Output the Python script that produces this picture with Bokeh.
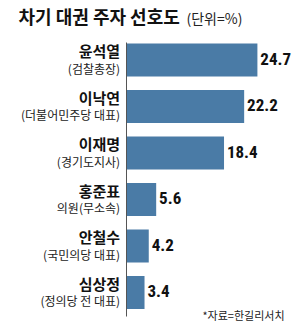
from bokeh.plotting import figure
from bokeh.models import Range1d, ColumnDataSource, Label
from bokeh.core.properties import value
from bokeh.embed import file_html
from bokeh.resources import INLINE

names = ["윤석열", "이낙연", "이재명", "홍준표", "안철수", "심상정"]
roles = ["(검찰총장)", "(더불어민주당 대표)", "(경기도지사)", "의원(무소속)", "(국민의당 대표)", "(정의당 전 대표)"]
values = [24.7, 22.2, 18.4, 5.6, 4.2, 3.4]
value_labels = ["24.7", "22.2", "18.4", "5.6", "4.2", "3.4"]

rows = list(range(len(names)))
W, H = 300, 329
px_per_unit = 5.3
x0_px = 126
row_px = 46.5
first_center_px = 59.5

x_start = -x0_px / px_per_unit
x_end = x_start + W / px_per_unit
y_top = -first_center_px / row_px
y_bottom = (H - first_center_px) / row_px

p = figure(width=W, height=H, output_backend="svg", toolbar_location=None,
           x_range=Range1d(x_start, x_end), y_range=Range1d(y_bottom, y_top),
           min_border=0, min_border_left=0, min_border_right=0,
           min_border_top=0, min_border_bottom=0)
p.axis.visible = False
p.grid.visible = False
p.outline_line_color = None
p.background_fill_color = "white"
p.border_fill_color = "white"

src = ColumnDataSource(dict(
    y=rows, v=values, name=names, role=roles, vl=value_labels,
    y_name=[r - 0.2 for r in rows], y_role=[r + 0.18 for r in rows],
    y_val=[r - 0.03 for r in rows],
    v_lab=[v + 0.55 for v in values],
))

p.hbar(y="y", left=0, right="v", height=0.71, source=src,
       fill_color="#4a7ba6", line_color=None)

# axis line
p.segment(x0=0, y0=y_top + 42 / row_px, x1=0, y1=y_top + 316 / row_px,
          line_color="#555555", line_width=1)

p.text(x=-1.2, y="y_name", text="name", source=src,
       text_font=value("Noto Sans CJK KR"), text_font_style="bold",
       text_font_size="15px", text_align="right", text_baseline="middle",
       text_color="#111111")
p.text(x=-1.2, y="y_role", text="role", source=src,
       text_font=value("Noto Sans CJK KR"),
       text_font_size="12px", text_align="right", text_baseline="middle",
       text_color="#222222")
p.text(x="v_lab", y="y_val", text="vl", source=src,
       text_font=value("'Liberation Sans Narrow', 'Roboto Condensed', Roboto, sans-serif"),
       text_font_style="bold",
       text_font_size="17px", text_align="left", text_baseline="middle",
       text_color="#111111")

p.add_layout(Label(x=18, y=H - 28, x_units="screen", y_units="screen",
                   text="차기 대권 주자 선호도", text_font="Noto Sans CJK KR",
                   text_font_style="bold", text_font_size="18px",
                   text_color="#111111"))
p.add_layout(Label(x=186, y=H - 27, x_units="screen", y_units="screen",
                   text="(단위=%)", text_font="Noto Sans CJK KR",
                   text_font_size="14px", text_color="#222222"))
p.add_layout(Label(x=284, y=H - 322, x_units="screen", y_units="screen",
                   text="*자료=한길리서치", text_font="Noto Sans CJK KR",
                   text_font_size="11px", text_align="right",
                   text_color="#222222"))

open("out.html", "w").write(file_html(p, INLINE))
